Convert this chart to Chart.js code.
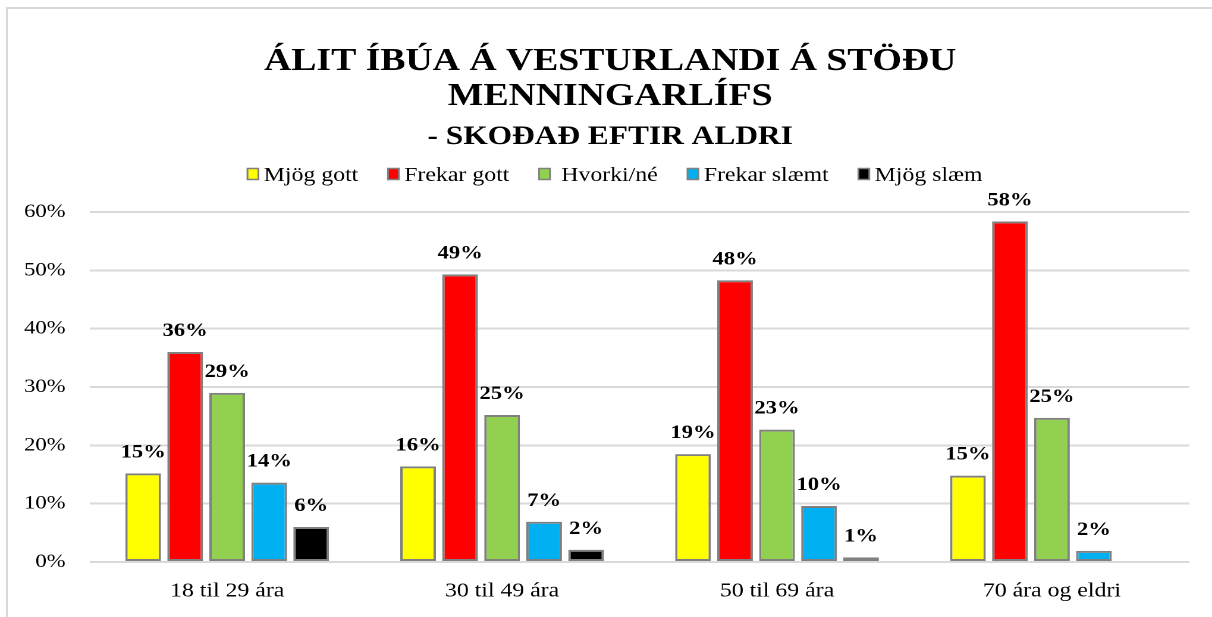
<!DOCTYPE html>
<html>
<head>
<meta charset="utf-8">
<script src="https://cdn.jsdelivr.net/npm/chart.js@4.4.1/dist/chart.umd.min.js"></script>
<style>
  html, body { margin: 0; padding: 0; background: #ffffff; overflow: hidden; }
  #frame { position: absolute; left: 6px; top: 7px; width: 1230px; height: 640px;
           border-left: 2px solid #d9d9d9; border-top: 2px solid #d9d9d9; }
  #wrap { position: absolute; left: 0; top: 0; width: 1019px; height: 617px;
          transform: scaleX(1.1894); transform-origin: 0 0; }
</style>
</head>
<body>
<div id="frame"></div>
<div id="wrap"><canvas id="c"></canvas></div>
<script>
const titleLines = ['ÁLIT ÍBÚA Á VESTURLANDI Á STÖÐU', 'MENNINGARLÍFS'];
const subtitleText = '- SKOÐAÐ EFTIR ALDRI';
const categories = ['18 til 29 ára', '30 til 49 ára', '50 til 69 ára', '70 ára og eldri'];
const seriesNames = ['Mjög gott', 'Frekar gott', ' Hvorki/né', 'Frekar slæmt', 'Mjög slæm'];
const mjogGott     = [15.2, 16.4, 18.5, 14.8];
const frekarGott   = [36.0, 49.3, 48.3, 58.4];
const hvorkiNe     = [29.0, 25.2, 22.7, 24.7];
const frekarSlaemt = [13.6, 6.9, 9.6, 1.9];
const mjogSlaem    = [6.0, 2.1, 0.8, null];
const yTicks = [0, 10, 20, 30, 40, 50, 60];

const seriesValues = [mjogGott, frekarGott, hvorkiNe, frekarSlaemt, mjogSlaem];
const seriesColors = ['#FFFF00', '#FF0000', '#92D050', '#00B0F0', '#000000'];
const FONT = '"Liberation Serif", "Times New Roman", serif';

const titlePlugin = {
  id: 'customTitle',
  afterDraw(chart) {
    const ctx = chart.ctx;
    const cx = 513;
    ctx.save();
    ctx.fillStyle = '#000000';
    ctx.textAlign = 'center';
    ctx.textBaseline = 'alphabetic';
    ctx.font = 'bold 31.7px ' + FONT;
    ctx.fillText(titleLines[0], cx, 70);
    ctx.fillText(titleLines[1], cx, 105);
    ctx.font = 'bold 26.4px ' + FONT;
    ctx.fillText(subtitleText, cx, 144);
    ctx.restore();
  }
};

const dataLabelPlugin = {
  id: 'dataLabels',
  afterDatasetsDraw(chart) {
    const ctx = chart.ctx;
    ctx.save();
    ctx.font = 'bold 19px ' + FONT;
    ctx.fillStyle = '#000000';
    ctx.textAlign = 'center';
    ctx.textBaseline = 'alphabetic';
    chart.data.datasets.forEach((ds, di) => {
      const meta = chart.getDatasetMeta(di);
      meta.data.forEach((bar, i) => {
        const v = ds.data[i];
        if (v === null || v === undefined) return;
        ctx.fillText(Math.round(v) + '%', bar.x, bar.y - 16);
      });
    });
    ctx.restore();
  }
};

const legendPlugin = {
  id: 'customLegend',
  afterDraw(chart) {
    const ctx = chart.ctx;
    const ds = chart.data.datasets;
    ctx.save();
    ctx.font = '20px ' + FONT;
    const boxW = 9.2, boxH = 11, gap = 4.5, itemGap = 25;
    const widths = ds.map(d => boxW + gap + ctx.measureText(d.label).width);
    const total = widths.reduce((a, b) => a + b, 0) + itemGap * (ds.length - 1);
    let x = 517 - total / 2;
    const baseY = chart.chartArea.top - 31;
    ds.forEach((d, i) => {
      ctx.fillStyle = d.backgroundColor;
      ctx.fillRect(x, baseY - 12.5, boxW, boxH);
      ctx.strokeStyle = '#808080';
      ctx.lineWidth = 1.5;
      ctx.strokeRect(x, baseY - 12.5, boxW, boxH);
      ctx.fillStyle = '#000000';
      ctx.textAlign = 'left';
      ctx.textBaseline = 'alphabetic';
      ctx.fillText(d.label, x + boxW + gap, baseY);
      x += widths[i] + itemGap;
    });
    ctx.restore();
  }
};

new Chart(document.getElementById('c'), {
  type: 'bar',
  data: {
    labels: categories,
    datasets: seriesNames.map((name, i) => ({
      label: name,
      data: seriesValues[i],
      backgroundColor: seriesColors[i],
      borderColor: '#808080',
      borderWidth: 2,
      borderSkipped: false,
      categoryPercentage: 0.764,
      barPercentage: 0.85
    }))
  },
  options: {
    responsive: true,
    maintainAspectRatio: false,
    animation: false,
    devicePixelRatio: 2,
    layout: { padding: { left: 0, right: 19, top: 212, bottom: -3 } },
    plugins: {
      legend: { display: false },
      tooltip: { enabled: false },
      title: { display: false },
      subtitle: { display: false }
    },
    scales: {
      x: {
        grid: { display: false, drawTicks: false },
        border: { display: false },
        ticks: { color: '#000000', font: { family: FONT, size: 20 }, padding: 17 }
      },
      y: {
        min: 0,
        max: 60,
        afterBuildTicks: axis => { axis.ticks = yTicks.map(v => ({ value: v })); },
        grid: { color: '#d9d9d9', lineWidth: 2, drawTicks: false },
        border: { display: false },
        ticks: {
          color: '#000000',
          font: { family: FONT, size: 19 },
          padding: 20.3,
          callback: v => v + '%'
        }
      }
    }
  },
  plugins: [dataLabelPlugin, legendPlugin, titlePlugin]
});
</script>
</body>
</html>
